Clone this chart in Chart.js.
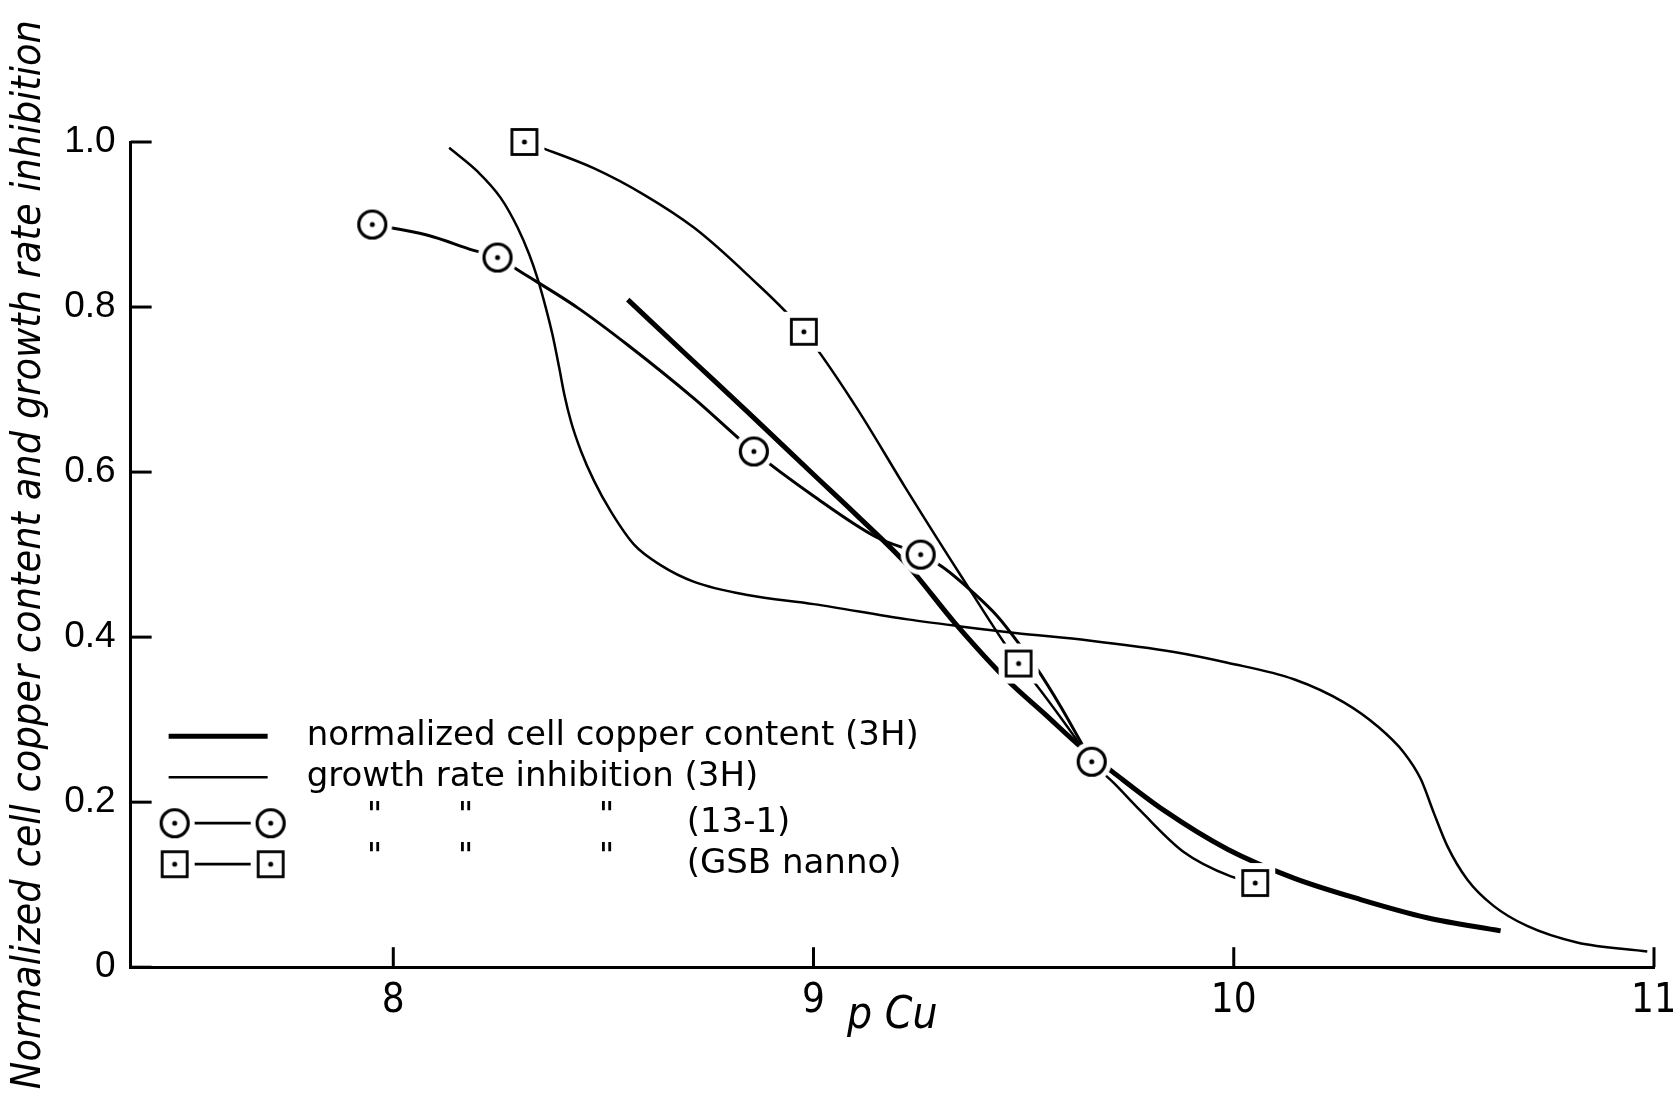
<!DOCTYPE html>
<html>
<head>
<meta charset="utf-8">
<script src="https://cdn.jsdelivr.net/npm/chart.js@4.4.1/dist/chart.umd.min.js"></script>
<style>
    html, body { margin: 0; padding: 0; background: #fff; }
    canvas { display: block; }
</style>
</head>
<body>
<canvas id="copperChart" width="1673" height="1094"></canvas>
<script>
// axis ticks
const xTicks = [8, 9, 10, 11];
const yTicks = [0, 0.2, 0.4, 0.6, 0.8, 1.0];
const yTickLabels = ["0", "0.2", "0.4", "0.6", "0.8", "1.0"];

// normalized cell copper content (3H) - heavy curve
const copperX = [8.558, 8.70, 8.843, 9.00, 9.10, 9.224, 9.335, 9.461, 9.55, 9.636, 9.711, 9.834, 9.985, 10.143, 10.302, 10.46, 10.635];
const copperY = [0.809, 0.741, 0.673, 0.597, 0.549, 0.487, 0.418, 0.348, 0.307, 0.267, 0.237, 0.190, 0.143, 0.108, 0.082, 0.060, 0.044];

// growth rate inhibition (3H) - light curve
const growthX = [8.133, 8.201, 8.256, 8.296, 8.324, 8.343, 8.363, 8.379, 8.395, 8.407, 8.423, 8.447, 8.478, 8.518, 8.573, 8.637, 8.716, 8.843, 9.00, 9.224, 9.35, 9.48, 9.655, 9.858, 9.985, 10.143, 10.262, 10.342, 10.405, 10.445, 10.476, 10.508, 10.556, 10.619, 10.698, 10.817, 10.984];
const growthY = [0.993, 0.964, 0.932, 0.896, 0.863, 0.835, 0.799, 0.766, 0.726, 0.694, 0.661, 0.625, 0.589, 0.552, 0.512, 0.487, 0.467, 0.451, 0.440, 0.4215, 0.413, 0.405, 0.396, 0.382, 0.369, 0.349, 0.321, 0.292, 0.260, 0.228, 0.187, 0.147, 0.106, 0.074, 0.050, 0.030, 0.019];

// growth rate inhibition (13-1) - circles and the curve drawn through them
const cloneX = [7.95, 8.248, 8.858, 9.255, 9.662];
const cloneY = [0.900, 0.860, 0.625, 0.500, 0.249];
const cloneCurveX = [7.95, 8.082, 8.189, 8.248, 8.302, 8.439, 8.558, 8.716, 8.858, 9.00, 9.15, 9.255, 9.307, 9.382, 9.438, 9.489, 9.529, 9.588, 9.662];
const cloneCurveY = [0.900, 0.887, 0.869, 0.860, 0.843, 0.799, 0.754, 0.689, 0.625, 0.571, 0.521, 0.500, 0.485, 0.453, 0.425, 0.392, 0.364, 0.316, 0.249];

// growth rate inhibition (GSB nanno) - squares and the curve drawn through them
const nannoX = [8.312, 8.977, 9.488, 10.051];
const nannoY = [1.000, 0.770, 0.368, 0.102];
const nannoCurveX = [8.312, 8.363, 8.478, 8.597, 8.716, 8.843, 8.977, 9.10, 9.22, 9.35, 9.488, 9.521, 9.62, 9.662, 9.715, 9.779, 9.88, 9.993, 10.051];
const nannoCurveY = [1.000, 0.991, 0.968, 0.936, 0.896, 0.839, 0.770, 0.680, 0.580, 0.475, 0.368, 0.348, 0.280, 0.249, 0.223, 0.189, 0.140, 0.110, 0.102];

function toPoints(xs, ys) {
    return xs.map((x, i) => ({ x: x, y: ys[i] }));
}

// symbol with a white halo, so curves stop just short of it like in the drawing
function makeMarker(shape) {
    const c = document.createElement("canvas");
    c.width = 44;
    c.height = 44;
    const g = c.getContext("2d");
    g.fillStyle = "#fff";
    g.strokeStyle = "#000";
    if (shape === "circle") {
        g.beginPath();
        g.arc(22, 22, 20, 0, Math.PI * 2);
        g.fill();
        g.lineWidth = 3.2;
        g.beginPath();
        g.arc(22, 22, 13.5, 0, Math.PI * 2);
        g.stroke();
    } else {
        g.fillRect(2, 2, 40, 40);
        g.lineWidth = 2.8;
        g.strokeRect(9.5, 9.5, 25, 25);
    }
    g.fillStyle = "#000";
    g.beginPath();
    g.arc(22, 22, 2.5, 0, Math.PI * 2);
    g.fill();
    return c;
}
const circleMark = makeMarker("circle");
const squareMark = makeMarker("square");

const narrowFont = "'Liberation Sans Narrow', 'DejaVu Sans Condensed', 'Liberation Sans', sans-serif";

// ticks on the inside of the axes
const inwardTicks = {
    id: "inwardTicks",
    beforeDatasetsDraw(chart) {
        const { ctx, scales: { x, y } } = chart;
        ctx.save();
        ctx.strokeStyle = "#000";
        ctx.lineWidth = 3;
        x.ticks.forEach(t => {
            const px = x.getPixelForValue(t.value);
            ctx.beginPath();
            ctx.moveTo(px, x.top);
            ctx.lineTo(px, x.top - 20);
            ctx.stroke();
        });
        y.ticks.forEach(t => {
            const py = y.getPixelForValue(t.value);
            ctx.beginPath();
            ctx.moveTo(y.right, py);
            ctx.lineTo(y.right + 21, py);
            ctx.stroke();
        });
        ctx.restore();
    }
};

// key in the lower left of the plot
const keyBox = {
    id: "keyBox",
    afterDraw(chart) {
        const { ctx, chartArea: area } = chart;
        const left = area.left;
        const rows = [area.bottom - 231, area.bottom - 190, area.bottom - 144, area.bottom - 103];
        const labels = chart.data.datasets.filter(d => d.keyLabel).map(d => d.keyLabel);
        ctx.save();
        ctx.strokeStyle = "#000";
        ctx.fillStyle = "#000";
        ctx.font = "34px 'DejaVu Sans', sans-serif";
        ctx.textBaseline = "middle";
        ctx.textAlign = "left";

        ctx.lineWidth = 5;
        ctx.beginPath();
        ctx.moveTo(left + 38, rows[0]);
        ctx.lineTo(left + 137, rows[0]);
        ctx.stroke();
        ctx.fillText(labels[0], left + 176, rows[0]);

        ctx.lineWidth = 2.5;
        ctx.beginPath();
        ctx.moveTo(left + 38, rows[1]);
        ctx.lineTo(left + 137, rows[1]);
        ctx.stroke();
        ctx.fillText(labels[1], left + 176, rows[1]);

        [[circleMark, rows[2], labels[2]], [squareMark, rows[3], labels[3]]].forEach(([mark, ry, text]) => {
            ctx.lineWidth = 2.8;
            ctx.beginPath();
            ctx.moveTo(left + 60, ry);
            ctx.lineTo(left + 124, ry);
            ctx.stroke();
            ctx.drawImage(mark, left + 44 - 22, ry - 22);
            ctx.drawImage(mark, left + 140 - 22, ry - 22);
            ctx.fillText("\"", left + 236, ry - 6);
            ctx.fillText("\"", left + 327, ry - 6);
            ctx.fillText("\"", left + 468, ry - 6);
            ctx.fillText(text, left + 556, ry);
        });
        ctx.restore();
    }
};

const ctx = document.getElementById("copperChart").getContext("2d");

new Chart(ctx, {
    type: "line",
    data: {
        datasets: [
            {
                label: "13-1 points",
                data: toPoints(cloneX, cloneY),
                showLine: false,
                pointStyle: circleMark,
                pointRadius: 12,
                clip: false,
            },
            {
                label: "GSB nanno points",
                data: toPoints(nannoX, nannoY),
                showLine: false,
                pointStyle: squareMark,
                pointRadius: 12,
                clip: false,
            },
            {
                label: "copper",
                keyLabel: "normalized cell copper content (3H)",
                data: toPoints(copperX, copperY),
                borderColor: "#000",
                borderWidth: 5,
                pointRadius: 0,
                cubicInterpolationMode: "monotone",
                clip: false,
            },
            {
                label: "growth",
                keyLabel: "growth rate inhibition (3H)",
                data: toPoints(growthX, growthY),
                borderColor: "#000",
                borderWidth: 2.5,
                pointRadius: 0,
                cubicInterpolationMode: "monotone",
                clip: false,
            },
            {
                label: "13-1",
                keyLabel: "(13-1)",
                data: toPoints(cloneCurveX, cloneCurveY),
                borderColor: "#000",
                borderWidth: 3,
                pointRadius: 0,
                cubicInterpolationMode: "monotone",
                clip: false,
            },
            {
                label: "GSB nanno",
                keyLabel: "(GSB nanno)",
                data: toPoints(nannoCurveX, nannoCurveY),
                borderColor: "#000",
                borderWidth: 2.5,
                pointRadius: 0,
                cubicInterpolationMode: "monotone",
                clip: false,
            },
        ],
    },
    options: {
        responsive: false,
        animation: false,
        devicePixelRatio: 1,
        layout: {
            padding: { top: 142, right: 19, bottom: 51, left: 0 },
        },
        plugins: {
            legend: { display: false },
            tooltip: { enabled: false },
        },
        scales: {
            x: {
                type: "linear",
                min: 7.375,
                max: 11,
                afterBuildTicks: scale => {
                    scale.ticks = xTicks.map(v => ({ value: v }));
                },
                // let the "11" label hang into the right margin as in the figure
                afterFit: scale => {
                    scale.paddingRight = 0;
                },
                ticks: {
                    color: "#000",
                    padding: 10,
                    font: { family: narrowFont, size: 40 },
                    callback: v => String(v),
                },
                grid: { display: false, drawTicks: false },
                border: { color: "#000", width: 3 },
                title: {
                    display: true,
                    text: "p Cu",
                    color: "#000",
                    padding: { top: -45, bottom: 0 },
                    font: { family: narrowFont, size: 44, style: "italic" },
                },
            },
            y: {
                type: "linear",
                min: 0,
                max: 1.0,
                afterBuildTicks: scale => {
                    scale.ticks = yTicks.map(v => ({ value: v }));
                },
                ticks: {
                    color: "#000",
                    padding: 15,
                    font: { family: "'Liberation Sans', Arial, sans-serif", size: 37 },
                    callback: v => yTickLabels[yTicks.indexOf(v)],
                },
                grid: { display: false, drawTicks: false },
                border: { color: "#000", width: 3 },
                title: {
                    display: true,
                    text: "Normalized cell copper content and growth rate inhibition",
                    color: "#000",
                    padding: { top: 5, bottom: -5 },
                    font: { family: narrowFont, size: 41, style: "italic" },
                },
            },
        },
    },
    plugins: [inwardTicks, keyBox],
});
</script>
</body>
</html>
